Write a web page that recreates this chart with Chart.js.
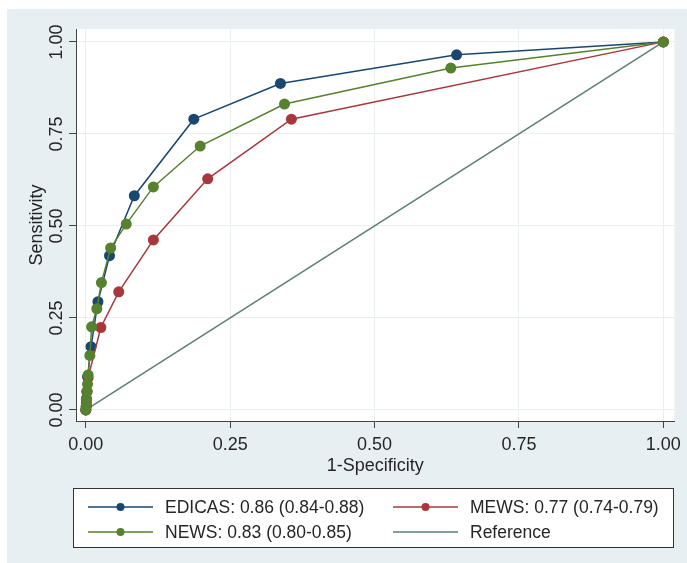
<!DOCTYPE html>
<html><head><meta charset="utf-8">
<script src="https://cdn.jsdelivr.net/npm/chart.js@4"></script>
<style>html,body{margin:0;padding:0;background:#fff;overflow:hidden}</style>
</head><body>
<canvas id="c" width="687" height="563"></canvas>
<script>
// ---- data ----
const seriesNames = ['EDICAS: 0.86 (0.84-0.88)', 'MEWS: 0.77 (0.74-0.79)', 'NEWS: 0.83 (0.80-0.85)', 'Reference'];
const edicasX = [0, 0.001, 0.001, 0.002, 0.003, 0.009, 0.021, 0.041, 0.084, 0.187, 0.337, 0.642, 1];
const edicasY = [0, 0.01, 0.03, 0.05, 0.09, 0.172, 0.294, 0.419, 0.582, 0.790, 0.887, 0.965, 1];
const mewsX = [0, 0.001, 0.002, 0.004, 0.026, 0.057, 0.117, 0.211, 0.356, 1];
const mewsY = [0, 0.02, 0.05, 0.088, 0.224, 0.321, 0.462, 0.628, 0.790, 1];
const newsX = [0, 0.0005, 0.001, 0.002, 0.003, 0.004, 0.007, 0.010, 0.019, 0.027, 0.043, 0.070, 0.117, 0.198, 0.344, 0.632, 1];
const newsY = [0, 0.01, 0.03, 0.05, 0.07, 0.095, 0.148, 0.226, 0.275, 0.346, 0.440, 0.505, 0.606, 0.717, 0.831, 0.929, 1];
const refX = [0, 1];
const refY = [0, 1];
const axisTicks = [0, 0.25, 0.5, 0.75, 1];
const xTitle = '1-Specificity';
const yTitle = 'Sensitivity';

// ---- styles ----
const colors = ['#1a476f', '#a8373c', '#56812e', '#5b7f72'];
const FONT = '"Liberation Sans", Arial, sans-serif';
const FS = 18;
const LFS = 17.5;
const TXT = '#262626';

const pts = (xs, ys) => xs.map((x, i) => ({x: x, y: ys[i]}));

const datasets = [
  {label: seriesNames[0], data: pts(edicasX, edicasY), order: 3},
  {label: seriesNames[1], data: pts(mewsX, mewsY), order: 2},
  {label: seriesNames[2], data: pts(newsX, newsY), order: 1},
  {label: seriesNames[3], data: pts(refX, refY), order: 4, pointRadius: 0}
].map((d, i) => Object.assign({
  showLine: true,
  borderColor: colors[i],
  backgroundColor: colors[i],
  pointBackgroundColor: colors[i],
  pointBorderColor: colors[i],
  pointBorderWidth: 0,
  pointRadius: 5.5,
  borderWidth: 1.5,
  tension: 0
}, d));

const bgPlugin = {
  id: 'bg',
  beforeDraw(chart) {
    const ctx = chart.ctx, a = chart.chartArea;
    ctx.save();
    ctx.fillStyle = '#ffffff';
    ctx.fillRect(0, 0, chart.width, chart.height);
    ctx.fillStyle = '#e8eff2';
    ctx.fillRect(7, 9, chart.width - 7, chart.height - 9);
    ctx.fillStyle = '#ffffff';
    ctx.fillRect(a.left, a.top, a.right - a.left, a.bottom - a.top);
    ctx.restore();
  },
  afterDraw(chart) {
    const ctx = chart.ctx, a = chart.chartArea;
    const ys = chart.scales.y;
    ctx.save();
    ctx.fillStyle = TXT;
    ctx.font = FS + 'px ' + FONT;
    ctx.textAlign = 'center';
    ctx.textBaseline = 'middle';
    // y tick labels (rotated)
    axisTicks.forEach(v => {
      const py = ys.getPixelForValue(v);
      ctx.save();
      ctx.translate(57, py);
      ctx.rotate(-Math.PI / 2);
      ctx.fillText(v.toFixed(2), 0, 0);
      ctx.restore();
    });
    // y title
    ctx.save();
    ctx.translate(37, (a.top + a.bottom) / 2);
    ctx.rotate(-Math.PI / 2);
    ctx.fillText(yTitle, 0, 0);
    ctx.restore();
    // x title
    ctx.fillText(xTitle, (a.left + a.right) / 2, 466);

    // legend
    const bx = 73.5, by = 488.5, bw = 600, bh = 59;
    ctx.fillStyle = '#ffffff';
    ctx.fillRect(bx, by, bw, bh);
    ctx.strokeStyle = '#333333';
    ctx.lineWidth = 1;
    ctx.strokeRect(bx, by, bw, bh);
    ctx.font = LFS + 'px ' + FONT;
    const cols = [{x0: 88, x1: 153, tx: 165}, {x0: 393, x1: 458, tx: 470}];
    const rows = [507, 532];
    chart.data.datasets.forEach((ds, i) => {
      const c = cols[i % 2], y = rows[Math.floor(i / 2)];
      ctx.strokeStyle = ds.borderColor;
      ctx.lineWidth = 1.5;
      ctx.beginPath();
      ctx.moveTo(c.x0, y);
      ctx.lineTo(c.x1, y);
      ctx.stroke();
      if (ds.pointRadius !== 0) {
        ctx.fillStyle = ds.pointBackgroundColor;
        ctx.beginPath();
        ctx.arc((c.x0 + c.x1) / 2, y, 4, 0, Math.PI * 2);
        ctx.fill();
      }
      ctx.fillStyle = TXT;
      ctx.textAlign = 'left';
      ctx.textBaseline = 'middle';
      ctx.fillText(ds.label, c.tx, y + 1);
    });
    ctx.restore();
  }
};

new Chart(document.getElementById('c'), {
  type: 'scatter',
  data: {datasets: datasets},
  options: {
    responsive: false,
    animation: false,
    devicePixelRatio: 1,
    layout: {padding: {top: 29, right: 8, left: 0, bottom: 0}},
    plugins: {legend: {display: false}, tooltip: {enabled: false}},
    scales: {
      x: {
        type: 'linear',
        min: -0.017, max: 1.019,
        afterFit: s => { s.height = 142; },
        afterBuildTicks: s => { s.ticks = axisTicks.map(v => ({value: v})); },
        grid: {color: '#e9eef0', lineWidth: 1, tickColor: '#444', tickLength: 7, drawTicks: true},
        border: {display: true, color: '#444', width: 1},
        ticks: {
          color: TXT, padding: 6,
          font: {family: FONT, size: FS},
          maxRotation: 0, minRotation: 0,
          callback: v => Number(v).toFixed(2)
        }
      },
      y: {
        type: 'linear',
        min: -0.030, max: 1.035,
        afterFit: s => { s.width = 76; },
        afterBuildTicks: s => { s.ticks = axisTicks.map(v => ({value: v})); },
        grid: {color: '#e9eef0', lineWidth: 1, tickColor: '#444', tickLength: 7, drawTicks: true},
        border: {display: true, color: '#444', width: 1},
        ticks: {display: false}
      }
    }
  },
  plugins: [bgPlugin]
});
</script>
</body></html>
